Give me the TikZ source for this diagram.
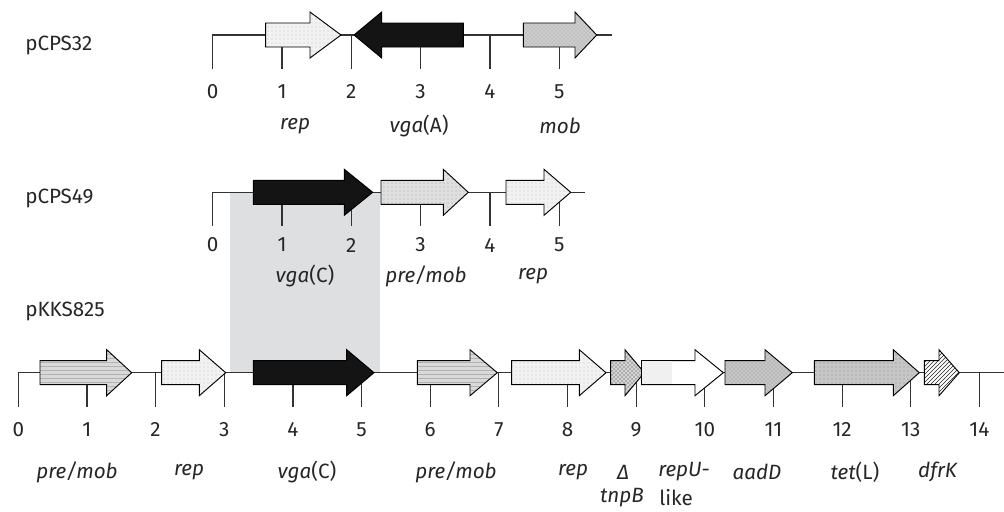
\documentclass[tikz,border=0pt]{standalone}
\usepackage{fontspec}
\setmainfont{Fira Sans}
\usetikzlibrary{patterns}
\definecolor{shadecol}{HTML}{DEDFE1}
\definecolor{tickc}{HTML}{333333}
\definecolor{vgac}{HTML}{141414}
\tikzset{
  bb/.style={line width=0.9pt, tickc},
  tk/.style={line width=0.9pt, tickc},
  gene/.style={draw=black, line width=0.7pt, line join=miter},
  gblack/.style={gene, fill=vgac},
  grep/.style={gene, preaction={fill=gray!10}, pattern=dots, pattern color=gray!45},
  gmob/.style={gene, preaction={fill=gray!40}, pattern=crosshatch dots, pattern color=gray!75},
  gpre/.style={gene, preaction={fill=gray!25}, pattern=dots, pattern color=gray!70},
  gpre2/.style={gene, preaction={fill=gray!30}, pattern=horizontal lines, pattern color=gray!60},
  gtnp/.style={gene, preaction={fill=gray!30}, pattern=crosshatch, pattern color=gray!70},
  gwhite/.style={gene, fill=white},
  gaad/.style={gene, preaction={fill=gray!45}, pattern=crosshatch dots, pattern color=gray!85},
  gtet/.style={gene, preaction={fill=gray!45}, pattern=dots, pattern color=gray!90},
  gdfr/.style={gene, preaction={fill=white}, pattern=north east lines, pattern color=black!85},
  num/.style={font=\fontsize{15.5}{17}\selectfont, inner sep=0pt, text=black!85},
  lab/.style={font=\fontsize{15.5}{17}\selectfont, inner sep=0pt, text=black!85},
  pname/.style={font=\fontsize{15.5}{17}\selectfont, inner sep=0pt, anchor=west, text=black!85},
}
% #1 style, #2 body end, #3 head base, #4 tip, #5 centre y
\newcommand\gene[5]{\path[#1] (#2,#5-12) -- (#3,#5-12) -- (#3,#5-23) -- (#4,#5) -- (#3,#5+23) -- (#3,#5+12) -- (#2,#5+12) -- cycle;}
\begin{document}
\begin{tikzpicture}[x=0.75pt,y=-0.75pt]
\useasboundingbox (0,0) rectangle (1004,511);
% shaded region
\fill[shadecol] (230,192.3) rectangle (380,372.7);

% ---------------- pCPS32 ----------------
\node[pname] (n32) at (25,45) {pCPS32};
\draw[bb] (212.7,69) -- (212.7,35) -- (611.7,35);
\foreach \i in {0,...,5} {
  \draw[tk] ({212.7+69.3*\i},35) -- ({212.7+69.3*\i},69);
  \node[num] (a\i) at ({212.7+69.3*\i},91.7) {\i};
}
\gene{grep}{265.7}{310}{341}{35}
\gene{gblack}{463.3}{381.7}{354}{35}
\gene{gmob}{523.3}{575}{596.7}{35}
\node[lab] (l32a) at (295,126) {\textit{rep}};
\node[lab] (l32b) at (419,126) {\textit{vga}(A)};
\node[lab] (l32c) at (560,126) {\textit{mob}};

% ---------------- pCPS49 ----------------
\node[pname] (n49) at (25,198) {pCPS49};
\draw[bb] (212.7,225.7) -- (212.7,192.3) -- (585,192.3);
\foreach \i in {0,...,5} {
  \draw[tk] ({212.7+69.3*\i},192.3) -- ({212.7+69.3*\i},225.7);
  \node[num] (b\i) at ({212.7+69.3*\i},245) {\i};
}
\gene{gblack}{253.3}{344.3}{372.7}{192.3}
\gene{gpre}{381}{443.3}{468.3}{192.3}
\gene{grep}{506}{544}{570.7}{192.3}
\node[lab] (l49a) at (305,276) {\textit{vga}(C)};
\node[lab] (l49b) at (426,276) {\textit{pre/mob}};
\node[lab] (l49c) at (533,276) {\textit{rep}};

% ---------------- pKKS825 ----------------
\node[pname] (n825) at (25,311.7) {pKKS825};
\draw[bb] (18.3,407) -- (18.3,372.7) -- (1004,372.7);
\foreach \i in {0,...,14} {
  \draw[tk] ({18.3+68.65*\i},372.7) -- ({18.3+68.65*\i},407);
  \node[num] (c\i) at ({18.3+68.65*\i},429.5) {\i};
}
\gene{gpre2}{40}{106.7}{131.7}{372.7}
\gene{grep}{161.7}{199.3}{225.7}{372.7}
\gene{gblack}{253.3}{346.7}{374}{372.7}
\gene{gpre2}{417.3}{470}{497.3}{372.7}
\gene{grep}{511.7}{579.3}{606}{372.7}
\gene{gtnp}{610.7}{625}{644.3}{372.7}
\gene{gwhite}{641.7}{695}{723.3}{372.7}
\fill[gray!12] (642.3,361.3) rectangle (671.7,384.1);
\gene{gaad}{725}{765}{792.3}{372.7}
\gene{gtet}{814.3}{893.3}{919.3}{372.7}
\gene{gdfr}{924.3}{939}{959.3}{372.7}
\node[lab] (k1) at (77,472) {\textit{pre/mob}};
\node[lab] (k2) at (189,472) {\textit{rep}};
\node[lab] (k3) at (307,472) {\textit{vga}(C)};
\node[lab] (k4) at (456,472) {\textit{pre/mob}};
\node[lab] (k5) at (573,472) {\textit{rep}};
\node[lab] (k6) at (623,472) {\textit{Δ}};
\node[lab] (k6b) at (622,498) {\textit{tnpB}};
\node[lab, anchor=west] (k7) at (658,472) {\textit{repU}-};
\node[lab, anchor=west] (k7b) at (659,498) {like};
\node[lab] (k8) at (757,472) {\textit{aadD}};
\node[lab] (k9) at (855,472) {\textit{tet}(L)};
\node[lab] (k10) at (938,472) {\textit{dfrK}};
\end{tikzpicture}
\end{document}
